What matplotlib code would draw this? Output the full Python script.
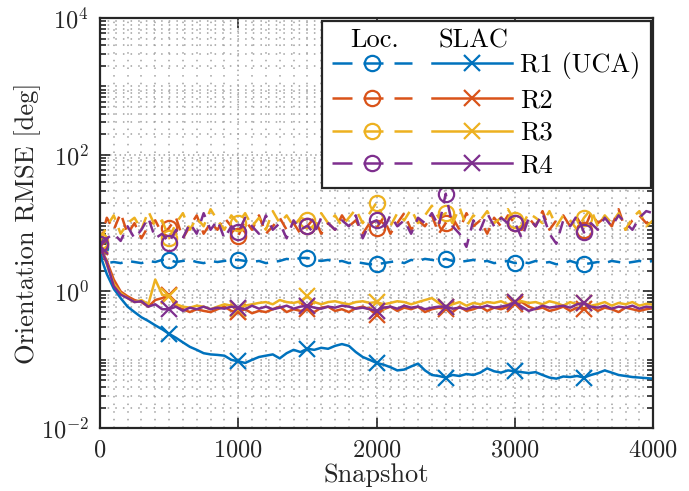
import numpy as np
import matplotlib
matplotlib.use('Agg')
import matplotlib.pyplot as plt
from matplotlib.ticker import MultipleLocator, LogLocator, NullFormatter
from matplotlib.legend_handler import HandlerTuple
from matplotlib.lines import Line2D

plt.rcParams['font.family'] = 'cmr10'
plt.rcParams['mathtext.fontset'] = 'cm'
plt.rcParams['axes.formatter.use_mathtext'] = True

# snapshot index (one value every 50 snapshots)
snapshots = np.arange(0, 4001, 50)
receivers = ['R1 (UCA)', 'R2', 'R3', 'R4']
colors = ['#0072BD', '#D95319', '#EDB120', '#7E2F8E']

# localization-based orientation RMSE [deg]
loc_r1 = [4.5, 2.6, 2.7, 2.6, 2.8, 2.7, 2.6, 2.8, 2.7, 2.9,
          2.9, 2.7, 2.8, 2.9, 2.7, 2.6, 2.8, 2.7, 2.8, 2.9,
          2.9, 2.8, 2.7, 2.8, 2.6, 2.7, 2.8, 3.0, 2.9, 3.1,
          3.1, 2.9, 2.8, 2.9, 2.7, 2.8, 2.6, 2.7, 2.6, 2.5,
          2.5, 2.6, 2.7, 2.8, 2.6, 2.9, 2.8, 3.0, 2.9, 2.8,
          3.0, 2.8, 2.7, 2.8, 2.9, 2.7, 2.8, 2.6, 2.7, 2.8,
          2.6, 2.7, 2.6, 2.8, 2.6, 2.7, 2.5, 2.6, 2.8, 2.6,
          2.5, 2.6, 2.7, 2.6, 2.8, 2.7, 2.6, 2.7, 2.8, 2.7,
          2.8]
loc_r2 = [5.0, 12, 8, 14, 7, 10, 6, 9, 11, 7,
          8.5, 12, 6, 9, 13, 7, 10, 8, 12, 9,
          6.5, 11, 8, 13, 7, 9, 12, 8, 10, 7,
          9, 12, 7, 10, 8, 13, 9, 11, 7, 10,
          8.5, 12, 7, 10, 14, 8, 11, 9, 13, 7,
          10, 12, 8, 14, 9, 11, 7, 12, 9, 13,
          10, 8, 12, 9, 15, 8, 11, 13, 9, 12,
          8, 14, 10, 12, 9, 16, 8, 11, 13, 10,
          12]
loc_r3 = [5.5, 9, 13, 7, 10, 12, 8, 15, 9, 11,
          6, 10, 14, 8, 12, 9, 16, 11, 8, 13,
          10, 14, 9, 12, 8, 15, 10, 13, 9, 12,
          11, 8, 14, 10, 13, 9, 12, 16, 10, 14,
          20, 12, 9, 14, 11, 16, 10, 13, 18, 12,
          14, 10, 17, 9, 13, 11, 15, 10, 12, 16,
          11, 9, 14, 12, 10, 15, 9, 13, 11, 8,
          12, 16, 9, 13, 10, 14, 8, 12, 15, 9,
          11]
loc_r4 = [5.0, 6, 7, 5.5, 9, 6, 8, 12, 6, 7,
          5.2, 8, 6, 10, 7, 14, 8, 11, 6, 9,
          7.3, 12, 9, 7, 13, 8, 10, 6, 11, 8,
          9.2, 7, 12, 10, 8, 11, 9, 13, 6, 10,
          11, 8, 13, 9, 11, 7, 12, 10, 14, 9,
          27, 9, 7, 4.5, 11, 8, 14, 9, 12, 10,
          10.2, 6, 12, 9, 14, 7, 5, 11, 9, 13,
          7.3, 10, 8, 12, 9, 13, 10, 8, 12, 15,
          14]

# SLAC orientation RMSE [deg]
slac_r1 = [3.5, 1.8, 1.1, 0.8, 0.6, 0.5, 0.42, 0.37, 0.32, 0.28,
           0.24, 0.21, 0.18, 0.155, 0.14, 0.125, 0.12, 0.118, 0.115, 0.10,
           0.095, 0.09, 0.1, 0.11, 0.115, 0.12, 0.105, 0.125, 0.14, 0.13,
           0.145, 0.14, 0.15, 0.145, 0.16, 0.17, 0.16, 0.13, 0.11, 0.1,
           0.09, 0.085, 0.078, 0.07, 0.072, 0.08, 0.088, 0.07, 0.06, 0.058,
           0.055, 0.06, 0.058, 0.062, 0.06, 0.065, 0.075, 0.068, 0.065, 0.07,
           0.068, 0.066, 0.064, 0.066, 0.06, 0.055, 0.053, 0.057, 0.056, 0.058,
           0.055, 0.06, 0.064, 0.07, 0.065, 0.06, 0.058, 0.056, 0.055, 0.054,
           0.053]
slac_r2 = [4.5, 2.8, 1.5, 1.0, 0.85, 0.75, 0.7, 0.6, 0.75, 0.8,
           0.9, 0.6, 0.55, 0.5, 0.55, 0.52, 0.5, 0.55, 0.6, 0.52,
           0.5, 0.55, 0.48, 0.52, 0.5, 0.55, 0.6, 0.5, 0.55, 0.52,
           0.55, 0.5, 0.58, 0.6, 0.52, 0.55, 0.5, 0.57, 0.6, 0.55,
           0.45, 0.55, 0.6, 0.52, 0.58, 0.55, 0.6, 0.5, 0.55, 0.58,
           0.55, 0.5, 0.6, 0.52, 0.55, 0.6, 0.52, 0.58, 0.55, 0.6,
           0.65, 0.7, 0.6, 0.55, 0.58, 0.52, 0.55, 0.6, 0.52, 0.58,
           0.55, 0.6, 0.52, 0.58, 0.55, 0.5, 0.58, 0.55, 0.52, 0.55,
           0.57]
slac_r3 = [4.8, 2.5, 1.3, 0.95, 0.8, 0.7, 0.75, 0.65, 1.5, 0.9,
           0.85, 0.65, 0.6, 0.58, 0.62, 0.6, 0.55, 0.6, 0.65, 0.62,
           0.55, 0.62, 0.65, 0.68, 0.7, 0.65, 0.75, 0.7, 0.68, 0.72,
           0.85, 0.7, 0.65, 0.7, 0.72, 0.68, 0.65, 0.7, 0.72, 0.68,
           0.7, 0.65, 0.68, 0.72, 0.7, 0.65, 0.7, 0.75, 0.8, 0.68,
           0.6, 0.65, 0.7, 0.62, 0.68, 0.65, 0.7, 0.68, 0.72, 0.65,
           0.7, 0.72, 0.68, 0.7, 0.65, 0.72, 0.68, 0.62, 0.7, 0.65,
           0.68, 0.62, 0.65, 0.7, 0.62, 0.68, 0.65, 0.7, 0.62, 0.66,
           0.64]
slac_r4 = [4.6, 2.6, 1.2, 0.9, 0.8, 0.7, 0.72, 0.6, 0.65, 0.55,
           0.55, 0.6, 0.52, 0.58, 0.55, 0.6, 0.55, 0.58, 0.56, 0.6,
           0.58, 0.55, 0.62, 0.56, 0.6, 0.55, 0.58, 0.62, 0.56, 0.6,
           0.62, 0.58, 0.56, 0.6, 0.58, 0.62, 0.6, 0.56, 0.58, 0.55,
           0.52, 0.58, 0.6, 0.56, 0.62, 0.58, 0.6, 0.55, 0.58, 0.6,
           0.6, 0.56, 0.58, 0.55, 0.6, 0.58, 0.62, 0.58, 0.6, 0.63,
           0.7, 0.6, 0.52, 0.56, 0.62, 0.58, 0.6, 0.62, 0.58, 0.65,
           0.68, 0.6, 0.58, 0.62, 0.56, 0.6, 0.58, 0.62, 0.56, 0.6,
           0.58]

loc_all = [loc_r1, loc_r2, loc_r3, loc_r4]
slac_all = [slac_r1, slac_r2, slac_r3, slac_r4]

fs = 19
tfs = 17.5
dark = '#262626'
fig = plt.figure(figsize=(6.89, 4.91), dpi=100)
ax = fig.add_axes([0.145, 0.128, 0.803, 0.835])

marks = slice(0, 71, 10)  # a marker every 500 snapshots
handles = []
for i in range(4):
    ax.plot(snapshots, loc_all[i], color=colors[i], lw=1.8, ls=(0, (5, 3.5)),
            marker='o', mfc='none', ms=11, mew=1.6, markevery=marks)
    hs, = ax.plot(snapshots, slac_all[i], color=colors[i], lw=1.8, ls='-',
                  marker='x', ms=11, mew=1.6, markevery=marks)
    # legend proxy with the longer dashes of the original legend
    hl = Line2D([], [], color=colors[i], lw=1.8, ls=(0, (8, 4.4)),
                marker='o', mfc='none', ms=11, mew=1.6)
    handles.append((hl, hs))

ax.set_yscale('log')
ax.set_xlim(0, 4000)
ax.set_ylim(1e-2, 1e4)
ax.set_xticks([0, 1000, 2000, 3000, 4000])
ax.set_yticks([1e-2, 1e0, 1e2, 1e4])
ax.xaxis.set_minor_locator(MultipleLocator(100))
ax.yaxis.set_minor_locator(LogLocator(base=10, subs=np.arange(1, 10), numticks=30))
ax.yaxis.set_minor_formatter(NullFormatter())

ax.grid(True, which='major', ls=(0, (1, 2.2)), color='#a0a0a0', lw=1.1)
ax.grid(True, which='minor', ls=(0, (1, 4)), color='#a0a0a0', lw=1.1)
ax.set_axisbelow(True)
ax.tick_params(which='both', direction='in', top=True, right=True,
               labelsize=tfs, colors=dark, width=1.2)
ax.tick_params(which='major', length=7, pad=8)
ax.tick_params(axis='y', which='minor', length=4)
ax.tick_params(axis='x', which='minor', length=0)
for s in ax.spines.values():
    s.set_linewidth(1.6)
    s.set_color(dark)

ax.set_xlabel('Snapshot', fontsize=fs, color=dark, labelpad=1)
ax.set_ylabel('Orientation RMSE [deg]', fontsize=fs, color=dark, labelpad=0)

# blank title reserves the header row; column headers are drawn as text
leg = ax.legend(handles, receivers, loc='upper right', fontsize=fs, title=' ',
                title_fontsize=9,
                handler_map={tuple: HandlerTuple(ndivide=None, pad=0.77)},
                handlelength=6.8, handletextpad=0.3, labelspacing=0.34,
                borderaxespad=0.1, borderpad=0.4, fancybox=False, framealpha=1)
leg.get_frame().set_edgecolor(dark)
leg.get_frame().set_linewidth(1.6)
ax.text(0.497, 0.929, 'Loc.', transform=ax.transAxes, ha='center', va='baseline',
        fontsize=fs, zorder=10)
ax.text(0.675, 0.929, 'SLAC', transform=ax.transAxes, ha='center', va='baseline',
        fontsize=fs, zorder=10)

fig.savefig('out.png', dpi=100)
